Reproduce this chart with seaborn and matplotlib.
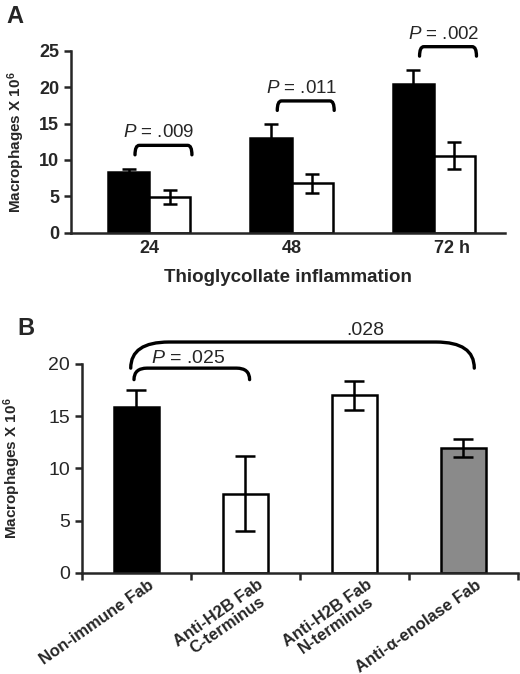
import matplotlib
matplotlib.use('Agg')
import matplotlib.pyplot as plt
from matplotlib.path import Path
from matplotlib.patches import PathPatch
from matplotlib.transforms import ScaledTranslation
import pandas as pd
import seaborn as sns

sns.set_theme(style='ticks')
plt.rcParams['font.family'] = ['Liberation Sans', 'DejaVu Sans']
plt.rcParams['mathtext.fontset'] = 'custom'
plt.rcParams['mathtext.rm'] = 'Liberation Sans'
plt.rcParams['mathtext.it'] = 'Liberation Sans:italic'
plt.rcParams['mathtext.bf'] = 'Liberation Sans:bold'

# Panel A: thioglycollate time course
hours = ['24', '48', '72 h']
treatments = ['Control', 'Treated']
a_control = [8.3, 13.0, 20.4]
a_control_err = [0.5, 1.9, 1.95]
a_treated = [4.9, 6.8, 10.6]
a_treated_err = [1.0, 1.3, 1.9]
a_pvals = ['.009', '.011', '.002']

# Panel B: Fab treatments
fabs = ['Non-immune Fab', 'Anti-H2B Fab\nC-terminus',
        'Anti-H2B Fab\nN-terminus', 'Anti-\u03b1-enolase Fab']
b_values = [15.9, 7.6, 17.0, 11.95]
b_err = [1.6, 3.6, 1.4, 0.9]
b_colors = ['black', 'white', 'white', '#8a8a8a']

dfA = pd.DataFrame({
    'Hour': hours * 2,
    'Group': [treatments[0]] * 3 + [treatments[1]] * 3,
    'Value': a_control + a_treated,
})
dfB = pd.DataFrame({'Fab': fabs, 'Value': b_values})

ylab = r'Macrophages X 10$^{\mathbf{6}}$'


def bracket(ax, x0, x1, y, h, r):
    # rounded bracket opening downward
    verts = [(x0, y - h), (x0, y), (x0 + r, y),
             (x1 - r, y),
             (x1, y), (x1, y - h)]
    codes = [Path.MOVETO, Path.CURVE3, Path.CURVE3,
             Path.LINETO, Path.CURVE3, Path.CURVE3]
    ax.add_patch(PathPatch(Path(verts, codes), fill=False, lw=2.4,
                           edgecolor='black', clip_on=False,
                           capstyle='round'))


fig = plt.figure(figsize=(5.2, 6.74), dpi=100)
axA = fig.add_axes([0.1365, 0.6547, 0.8345, 0.2701])
axB = fig.add_axes([0.157, 0.150, 0.839, 0.310])

# ---- Panel A ----
sns.barplot(data=dfA, x='Hour', y='Value', hue='Group',
            palette=['black', 'white'], edgecolor='black', linewidth=1.8,
            width=0.58, errorbar=None, legend=False, ax=axA)
bars = axA.patches[:6]
xs = [b.get_x() + b.get_width() / 2 for b in bars]
errs = a_control_err + a_treated_err
vals = a_control + a_treated
axA.errorbar(xs, vals, yerr=errs, fmt='none', ecolor='black',
             elinewidth=1.8, capsize=5, capthick=1.8, zorder=5)

for i in range(3):
    top = max(a_control[i] + a_control_err[i], a_treated[i] + a_treated_err[i]) + 3.2
    bracket(axA, i - 0.1, i + 0.3, top, 1.3, 0.03)
    axA.text(i + 0.07, top + 0.55, f'$P$ = {a_pvals[i]}', ha='center',
             va='bottom', fontsize=13.5)

axA.set_ylim(0, 25)
axA.set_xlim(-0.55, 2.5)
axA.set_yticks([0, 5, 10, 15, 20, 25])
axA.tick_params(axis='y', labelsize=13, width=1.8, length=5, direction='out')
axA.tick_params(axis='x', length=0, labelsize=13, pad=5)
for lab in axA.get_xticklabels() + axA.get_yticklabels():
    lab.set_fontweight('bold')
axA.get_xticklabels()[-1].set_horizontalalignment('left')
axA.set_xlabel('Thioglycollate inflammation', fontsize=13.5,
               fontweight='bold', labelpad=9)
axA.set_ylabel(ylab, fontsize=11, fontweight='bold', labelpad=9)
sns.despine(ax=axA)
for s in ['left', 'bottom']:
    axA.spines[s].set_linewidth(1.8)
fig.text(0.013, 0.993, 'A', fontsize=17, fontweight='bold', va='top')

# ---- Panel B ----
sns.barplot(data=dfB, x='Fab', y='Value', hue='Fab', palette=b_colors,
            edgecolor='black', linewidth=1.8, width=0.41, errorbar=None,
            legend=False, ax=axB)
axB.errorbar(range(len(fabs)), b_values, yerr=b_err, fmt='none',
             ecolor='black', elinewidth=1.8, capsize=7, capthick=1.8,
             zorder=5)

bracket(axB, -0.02, 1.04, 19.6, 1.1, 0.12)
axB.text(0.48, 19.75, '$P$ = .025', ha='center', va='bottom', fontsize=14)
bracket(axB, -0.05, 3.1, 22.1, 2.5, 0.35)
axB.text(2.1, 22.35, '.028', ha='center', va='bottom', fontsize=14)

axB.set_ylim(0, 20)
axB.set_xlim(-0.5, 3.5)
axB.set_yticks([0, 5, 10, 15, 20])
axB.set_xticks([-0.5, 0.5, 1.5, 2.5, 3.5], minor=True)
axB.tick_params(axis='y', labelsize=14, width=1.8, length=5, direction='out')
axB.tick_params(axis='x', which='major', length=0, pad=3)
axB.tick_params(axis='x', which='minor', length=5, width=1.8,
                direction='out')
axB.set_xticks(range(len(fabs)))
axB.set_xticklabels(fabs, rotation=35, ha='right', rotation_mode='anchor',
                    fontsize=12, fontweight='bold', multialignment='center',
                    linespacing=1.0)
shift = ScaledTranslation(0.12, 0, fig.dpi_scale_trans)
for lab in axB.get_xticklabels():
    lab.set_transform(lab.get_transform() + shift)
axB.set_xlabel('')
axB.set_ylabel(ylab, fontsize=11, fontweight='bold', labelpad=18)
sns.despine(ax=axB)
for s in ['left', 'bottom']:
    axB.spines[s].set_linewidth(1.8)
fig.text(0.033, 0.530, 'B', fontsize=17, fontweight='bold', va='top')

fig.savefig('out.png', dpi=100)
